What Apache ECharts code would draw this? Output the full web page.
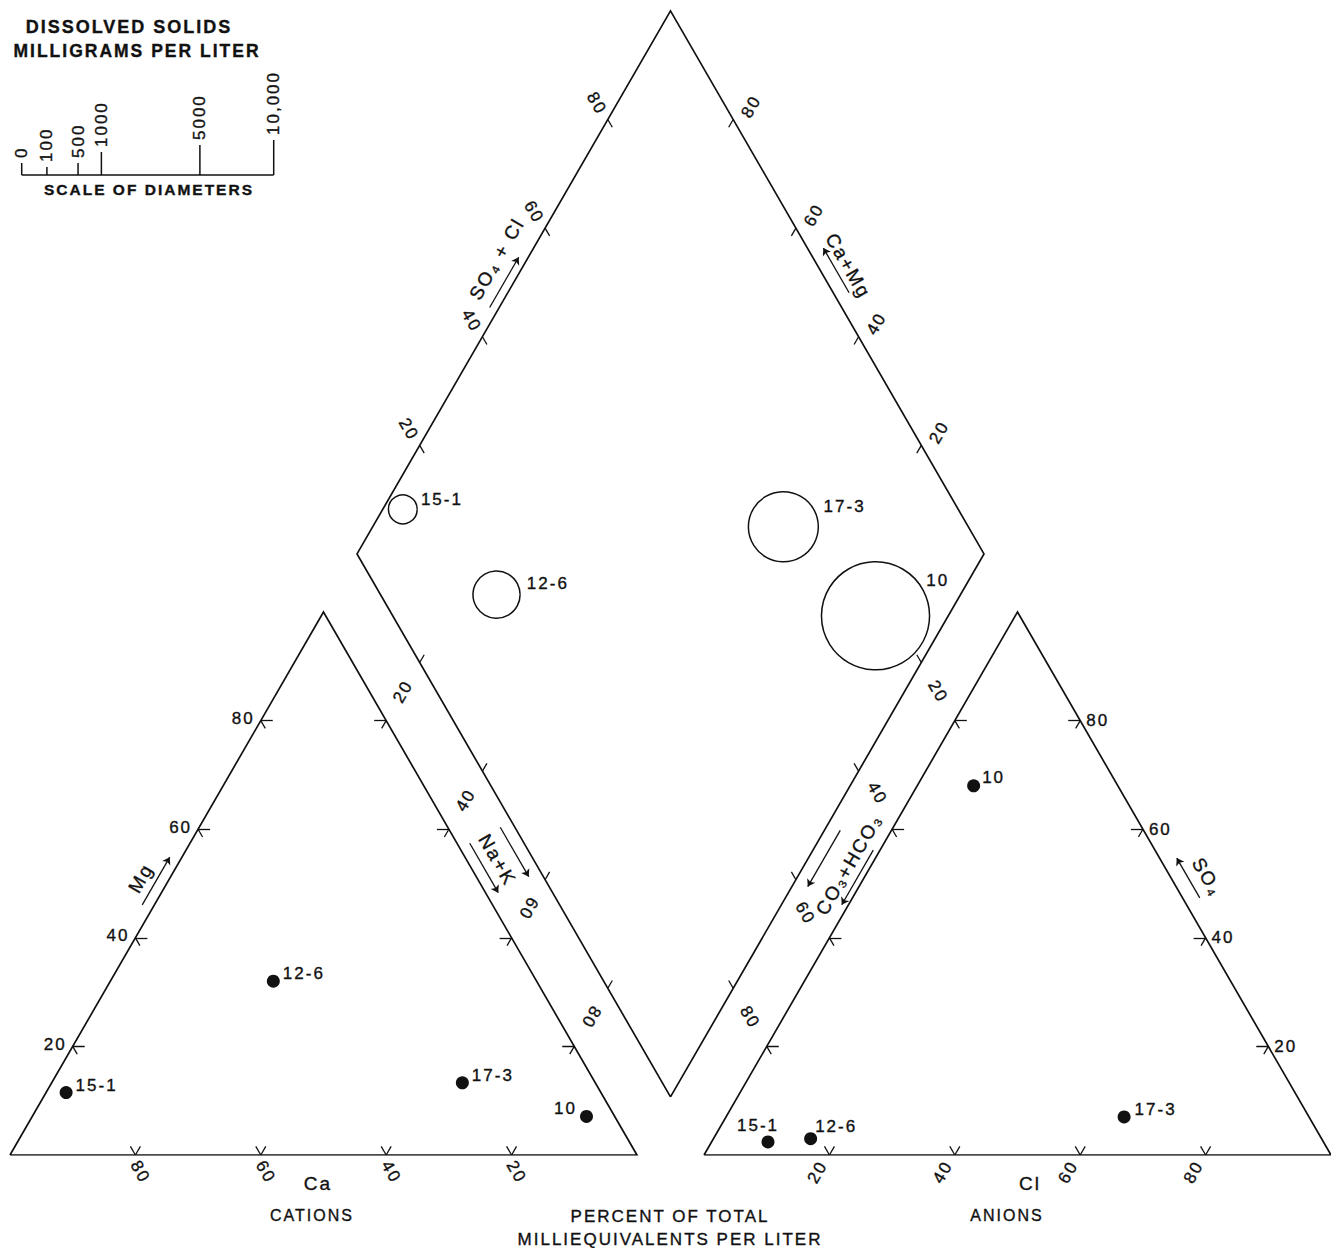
<!DOCTYPE html>
<html>
<head>
<meta charset="utf-8">
<title>Piper diagram</title>
<script src="https://cdn.jsdelivr.net/npm/echarts@6/dist/echarts.min.js"></script>
<style>
  html, body { margin: 0; padding: 0; background: #fff; }
  #chart { width: 1331px; height: 1248px; }
  #chart text { letter-spacing: 2px; }
</style>
</head>
<body>
<div id="chart"></div>
<script>
// Samples, percent of total milliequivalents per liter
const SAMPLES = ['15-1', '12-6', '17-3', '10'];
const CA = [85.3, 42, 21.2, 4.5];
const MG = [11.5, 32, 13.3, 7.1];
const NA_K = [3.2, 26, 65.5, 88.4];
const CO3_HCO3 = [88.6, 81.5, 29.5, 23];
const SO4 = [2.4, 3, 7, 68];
const CL = [9, 15.5, 63.5, 9];
// Dissolved solids, milligrams per liter
const TDS = [130, 350, 770, 1840];

const PCT_TICKS = [20, 40, 60, 80];
const TDS_SCALE = [0, 100, 500, 1000, 5000, 10000];
const TDS_SCALE_LABELS = ['0', '100', '500', '1000', '5000', '10,000'];

// ---- layout ----
const S = 6.27;            // px per percent
const GAP = 10.7;          // gap between the two triangles, in percent units
const H = Math.sqrt(3) / 2;
const X0 = 10, Y0 = 1155;  // px position of the Ca corner
const XMAX = 210.7, YMAX = 183;
const DIAM_K = 2.52;       // px of circle diameter per sqrt(mg/L)
const INK = '#111';
const FONT = "'Liberation Sans', Arial, sans-serif";
const THICK = 0.35;        // extra stroke on lettering

const AX = 100 + GAP;                  // anion triangle origin
const B = [100 + GAP / 2, GAP * H];    // bottom corner of the diamond

// ternary -> plot units
const cat = (ca, mg, nak) => [nak + mg / 2, mg * H];
const ani = (hco3, so4, cl) => [AX + cl + so4 / 2, so4 * H];
const dia = (camg, scl) => [B[0] + (scl - camg) / 2, B[1] + (camg + scl) * H];
const mid = (a, b) => [(a[0] + b[0]) / 2, (a[1] + b[1]) / 2];
// px offsets (screen, y down) on top of plot units
const off = (p, dx, dy) => [p[0] + dx / S, p[1] - dy / S];
const step = (p, deg, len) => {
  const r = deg * Math.PI / 180;
  return [p[0] + Math.cos(r) * len / S, p[1] + Math.sin(r) * len / S];
};

// outlines
const outlines = [
  [cat(100, 0, 0), cat(0, 0, 100), cat(0, 100, 0), cat(100, 0, 0)],
  [ani(100, 0, 0), ani(0, 0, 100), ani(0, 100, 0), ani(100, 0, 0)],
  [dia(0, 0), dia(100, 0), dia(100, 100), dia(0, 100), dia(0, 0)]
];

// ticks
const tickSegs = [];
function addTick(p, arms) {
  arms.forEach(([deg, len]) => tickSegs.push({ coords: [p, step(p, deg, len)] }));
}
const V_ARMS = [[60, 10], [120, 10]];
PCT_TICKS.forEach(v => {
  addTick(cat(v, 0, 100 - v), V_ARMS);
  addTick(cat(100 - v, v, 0), [[0, 12], [-60, 9]]);
  addTick(cat(0, 100 - v, v), [[180, 12], [240, 9]]);
  addTick(ani(100 - v, 0, v), V_ARMS);
  addTick(ani(v, 100 - v, 0), [[0, 12], [-60, 9]]);
  addTick(ani(0, v, 100 - v), [[180, 12], [240, 9]]);
  addTick(dia(100, v), [[-60, 9]]);
  addTick(dia(v, 100), [[240, 9]]);
  addTick(dia(100 - v, 0), [[60, 9]]);
  addTick(dia(0, 100 - v), [[120, 9]]);
});

// texts along the axes
const texts = [];
function addText(p, dx, dy, text, rot, opts) {
  texts.push(Object.assign({ p, dx, dy, text, rot: rot || 0, size: 17 }, opts || {}));
}
// right-gap labels nudged away from the CO3+HCO3 name
const RIGHT_GAP_NUDGE = { 40: [2, -7], 60: [-7.5, 4.5] };
PCT_TICKS.forEach(v => {
  const t = String(v);
  const nudge = RIGHT_GAP_NUDGE[v] || [0, 0];
  addText(cat(100 - v, v, 0), -6, -2, t, 0, { align: 'right' });
  addText(cat(v, 0, 100 - v), 5, 17, t, -60);
  addText(ani(0, v, 100 - v), 6, 0, t, 0, { align: 'left' });
  addText(ani(100 - v, 0, v), -12, 17, t, 60);
  addText(mid(cat(0, 100 - v, v), dia(100 - v, 0)), 0, 0, t, v < 50 ? 60 : -120);
  addText(mid(ani(v, 100 - v, 0), dia(0, 100 - v)), nudge[0], nudge[1], t, -60);
  addText(dia(100, v), -11, -16, t, -60);
  addText(dia(v, 100), 18, -13, t, 60);
});
const NAK_MID = mid(cat(0, 50, 50), dia(50, 0));
const HCO_MID = mid(ani(50, 50, 0), dia(0, 50));
const NAME = { size: 19 };
addText(cat(50, 50, 0), -26, -5.5, 'Mg', 60, NAME);
addText(cat(50, 0, 50), -5.5, 28, 'Ca', 0, NAME);
addText(NAK_MID, 0.5, 5.5, 'Na+K', -60, NAME);
addText(HCO_MID, 5, 10, 'CO₃+HCO₃', 60, NAME);
addText(ani(0, 50, 50), 33, -6.5, 'SO₄', -60, NAME);
addText(ani(50, 0, 50), 12.5, 28, 'Cl', 0, NAME);
addText(dia(100, 50), -17, -23.5, 'SO₄ + Cl', 60, NAME);
addText(dia(50, 100), 21, -16.6, 'Ca+Mg', -60, NAME);

// arrows next to the axis names
const arrows = [];
function addArrow(p, dx, dy, deg, len) {
  const m = off(p, dx, dy);
  arrows.push({ coords: [step(m, deg + 180, len / 2), step(m, deg, len / 2)] });
}
addArrow(cat(50, 50, 0), -10.75, -2.5, 60, 55);
addArrow(cat(50, 0, 50), 7.5, 11, 180, 42);
addArrow(NAK_MID, -13, 13.5, -60, 57);
addArrow(NAK_MID, 17.5, -2.5, -60, 57);
addArrow(HCO_MID, -20, 4, 240, 65);
addArrow(HCO_MID, 13.5, 23, 240, 63);
addArrow(ani(0, 50, 50), 14, -5.5, 120, 46);
addArrow(ani(50, 0, 50), 9, 11, 0, 47);
addArrow(dia(100, 50), -9.6, 0, 60, 58);
addArrow(dia(50, 100), 9, -12, 120, 51.5);

// sample label placement [position, offset]
const CAT_LABEL_POS = [['right', [0, -7]], ['right', [0, -7.5]], ['right', [0, -7.5]], ['left', [0, -7.5]]];
const ANI_LABEL_POS = [['top', [-10, 2]], ['right', [-5, -12]], ['right', [1, -7]], ['right', [-1, -8.5]]];
const DIA_LABEL_POS = [['right', [0, -10]], ['right', [3, -11.5]], ['right', [1.5, -20]], ['right', [-7, -35.5]]];

const labelStyle = {
  show: true, color: INK, fontSize: 17, fontFamily: FONT, distance: 3,
  textBorderColor: INK, textBorderWidth: THICK
};
function sampleData(points, place, size) {
  return points.map((p, i) => ({
    value: p,
    symbolSize: size ? size[i] : 13,
    label: Object.assign({}, labelStyle, { formatter: SAMPLES[i], position: place[i][0], offset: place[i][1] })
  }));
}
const catPts = SAMPLES.map((s, i) => cat(CA[i], MG[i], NA_K[i]));
const aniPts = SAMPLES.map((s, i) => ani(CO3_HCO3[i], SO4[i], CL[i]));
const diaPts = SAMPLES.map((s, i) => dia(CA[i] + MG[i], SO4[i] + CL[i]));
const diaSize = TDS.map(v => DIAM_K * Math.sqrt(v));

// legend (scale of diameters)
const LEG_X0 = 21.7, LEG_Y = 175;
const LEG_TICK_LEN = [12, 8, 12, 23, 30, 35];
const legX = v => LEG_X0 + DIAM_K * Math.sqrt(v);
const legend = [
  { type: 'line', shape: { x1: legX(0), y1: LEG_Y, x2: legX(10000), y2: LEG_Y }, style: { stroke: INK, lineWidth: 1.5 } }
];
function textStyle(text, size, weight, align) {
  return {
    text, fill: INK, stroke: INK, lineWidth: THICK,
    font: `${weight || 'normal'} ${size}px ${FONT}`, align: align || 'center', verticalAlign: 'middle'
  };
}
TDS_SCALE.forEach((v, i) => {
  const x = legX(v);
  legend.push({ type: 'line', shape: { x1: x, y1: LEG_Y, x2: x, y2: LEG_Y - LEG_TICK_LEN[i] }, style: { stroke: INK, lineWidth: 1.5 } });
  legend.push({ type: 'text', x: x, y: LEG_Y - LEG_TICK_LEN[i] - 5, rotation: Math.PI / 2,
    style: textStyle(TDS_SCALE_LABELS[i], 17, 'normal', 'left') });
});
const title = (x, y, text, size, weight) => ({ type: 'text', x, y, style: textStyle(text, size, weight) });
legend.push(
  title(129, 27, 'DISSOLVED SOLIDS', 18, 'bold'),
  title(137, 51, 'MILLIGRAMS PER LITER', 17.5, 'bold'),
  title(149, 189, 'SCALE OF DIAMETERS', 15.5, 'bold'),
  title(312, 1215, 'CATIONS', 16),
  title(1007, 1215, 'ANIONS', 16),
  title(670, 1216, 'PERCENT OF TOTAL', 17),
  title(670, 1239, 'MILLIEQUIVALENTS PER LITER', 17)
);

const chart = echarts.init(document.getElementById('chart'), null, { renderer: 'svg' });
chart.setOption({
  animation: false,
  backgroundColor: '#fff',
  grid: { left: X0, top: Y0 - YMAX * S, width: XMAX * S, height: YMAX * S },
  xAxis: { type: 'value', min: 0, max: XMAX, show: false },
  yAxis: { type: 'value', min: 0, max: YMAX, show: false },
  graphic: legend,
  series: [
    {
      type: 'lines', coordinateSystem: 'cartesian2d', polyline: true, silent: true,
      data: outlines.map(c => ({ coords: c })),
      lineStyle: { color: INK, width: 1.7, opacity: 1 }
    },
    {
      type: 'lines', coordinateSystem: 'cartesian2d', silent: true,
      data: tickSegs,
      lineStyle: { color: INK, width: 1.3, opacity: 1 }
    },
    {
      type: 'lines', coordinateSystem: 'cartesian2d', silent: true,
      symbol: ['none', 'arrow'], symbolSize: [0, 7],
      data: arrows,
      lineStyle: { color: INK, width: 1.3, opacity: 1 }
    },
    {
      type: 'scatter', name: 'Cations', silent: true,
      data: sampleData(catPts, CAT_LABEL_POS),
      itemStyle: { color: INK, opacity: 1 }
    },
    {
      type: 'scatter', name: 'Anions', silent: true,
      data: sampleData(aniPts, ANI_LABEL_POS),
      itemStyle: { color: INK, opacity: 1 }
    },
    {
      type: 'scatter', name: 'Dissolved solids', silent: true,
      data: sampleData(diaPts, DIA_LABEL_POS, diaSize),
      itemStyle: { color: 'rgba(0,0,0,0)', borderColor: INK, borderWidth: 1.5, opacity: 1 }
    },
    {
      type: 'custom', silent: true,
      data: texts.map((t, i) => [t.p[0], t.p[1], i]),
      renderItem: (params, api) => {
        const t = texts[params.dataIndex];
        const c = api.coord([api.value(0), api.value(1)]);
        return {
          type: 'text', x: c[0] + t.dx, y: c[1] + t.dy, rotation: t.rot * Math.PI / 180,
          style: textStyle(t.text, t.size, 'normal', t.align)
        };
      }
    }
  ]
});
</script>
</body>
</html>
